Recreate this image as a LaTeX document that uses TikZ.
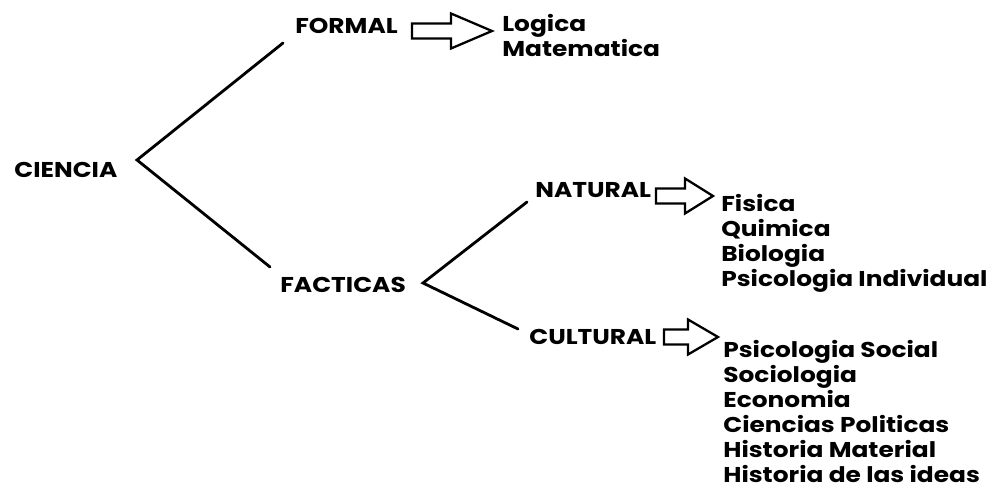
\documentclass[tikz,border=0pt]{standalone}
\usepackage{fontspec}
\setmainfont{Poppins}[FakeStretch=1.16]
\usetikzlibrary{positioning}

\tikzset{
  term/.style={font=\fontsize{12.2}{14.2}\selectfont\bfseries, inner sep=0pt, anchor=base west},
  terms/.style={font=\fontsize{12.2}{14.2}\selectfont\bfseries, inner sep=0pt, anchor=north west, align=left},
  branch/.style={line width=1.6pt, line cap=round},
  arrowline/.style={line width=1.3pt, line join=miter, fill=white}
}

% block arrow: start point, shaft length, head length
\newcommand{\fatarrow}[3]{%
  \draw[arrowline] #1 ++(0,-7.5) -- ++(#2,0) -- ++(0,-10) -- ++(#3,17.5)
    -- ++(-#3,17.5) -- ++(0,-10) -- ++(-#2,0) -- cycle;}

\begin{document}
\begin{tikzpicture}[x=0.02cm, y=-0.02cm]
\useasboundingbox (0,0) rectangle (1002,486);

\node[term] (ciencia) at (14,178) {CIENCIA};
\node[term] (formal) at (295,34) {FORMAL};
\node[term] (facticas) at (280,293) {FACTICAS};
\node[term] (natural) at (535,198) {NATURAL};
\node[term] (cultural) at (529,345) {CULTURAL};

\node[terms] (formales) at (502,14) {Logica\\Matematica};
\node[terms] (naturales) at (721,194) {Fisica\\Quimica\\Biologia\\Psicologia Individual};
\node[terms] (culturales) at (723,340) {Psicologia Social\\Sociologia\\Economia\\Ciencias Politicas\\Historia Material\\Historia de las ideas};

\coordinate (c-apex) at (137,160);
\coordinate (c-up) at (283,43);
\coordinate (c-down) at (270,267);
\coordinate (f-apex) at (423,283);
\coordinate (f-up) at (527,202);
\coordinate (f-down) at (518,329);

\draw[branch] (c-up) -- (c-apex) -- (c-down);
\draw[branch] (f-up) -- (f-apex) -- (f-down);

\fatarrow{(412,31)}{39}{41}
\fatarrow{(656,196)}{29}{28}
\fatarrow{(664,337)}{24}{30}

\end{tikzpicture}
\end{document}
